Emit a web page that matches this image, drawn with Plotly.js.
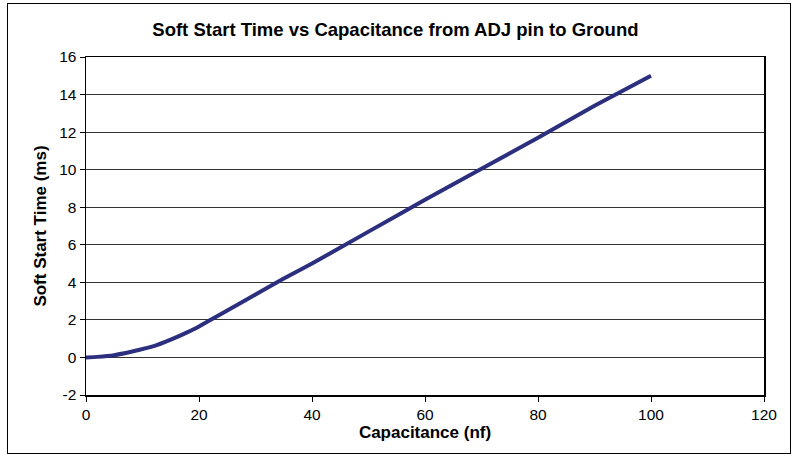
<!DOCTYPE html>
<html>
<head>
<meta charset="utf-8">
<script src="https://cdn.plot.ly/plotly-3.0.1.min.js"></script>
<style>
html,body{margin:0;padding:0;background:#fff;}
#wrap{position:relative;width:794px;height:454px;}
#chart{position:absolute;left:0;top:0;width:794px;height:454px;}
#frame{position:absolute;left:7px;top:3px;width:782px;height:449px;border:1.5px solid #000;pointer-events:none;}
</style>
</head>
<body>
<div id="wrap"><div id="chart"></div><div id="frame"></div></div>
<script>
const capacitance = [0, 2, 5, 8, 11, 12, 15, 18, 20, 22, 25, 30, 35, 40, 50, 60, 70, 80, 90, 100];
const softStartTime = [0, 0.03, 0.12, 0.3, 0.52, 0.6, 0.95, 1.35, 1.65, 2.0, 2.5, 3.35, 4.2, 5.0, 6.7, 8.4, 10.05, 11.7, 13.4, 15.0];
const xTicks = [0, 20, 40, 60, 80, 100, 120];
const yTicks = [-2, 0, 2, 4, 6, 8, 10, 12, 14, 16];

const font = "Liberation Sans, Arial, Helvetica, sans-serif";

Plotly.newPlot('chart', [{
  x: capacitance,
  y: softStartTime,
  type: 'scatter',
  mode: 'lines',
  line: {color: '#2b2f7e', width: 4, shape: 'spline', smoothing: 0.4},
  hoverinfo: 'skip'
}], {
  width: 794, height: 454,
  margin: {l: 86, r: 30, t: 57, b: 59},
  paper_bgcolor: '#fff', plot_bgcolor: '#fff',
  showlegend: false,
  title: {text: '<b>Soft Start Time vs Capacitance from ADJ pin to Ground</b>', x: 0.498, xref: 'container', y: 0.934, yref: 'container', yanchor: 'middle', font: {family: font, size: 18.5, color: '#000'}},
  xaxis: {
    range: [0, 120], tickvals: xTicks, ticktext: xTicks.map(String),
    ticks: 'outside', ticklen: 5, tickcolor: '#000', tickwidth: 1,
    showline: true, linecolor: '#000', linewidth: 1.5, mirror: true,
    showgrid: false, zeroline: false,
    tickfont: {family: font, size: 15.5, color: '#000'},
    title: {text: '<b>Capacitance (nf)</b>', font: {family: font, size: 17, color: '#000'}, standoff: 4}
  },
  yaxis: {
    range: [-2, 16], tickvals: yTicks, ticktext: yTicks.map(String),
    ticks: 'outside', ticklen: 5, tickcolor: '#000', tickwidth: 1,
    showline: true, linecolor: '#000', linewidth: 1.5, mirror: true,
    showgrid: true, gridcolor: '#333', gridwidth: 1, zeroline: false,
    tickfont: {family: font, size: 15.5, color: '#000'},
    title: {text: '<b>Soft Start Time (ms)</b>', font: {family: font, size: 17, color: '#000'}, standoff: 8}
  }
}, {displayModeBar: false, staticPlot: true});
</script>
</body>
</html>
